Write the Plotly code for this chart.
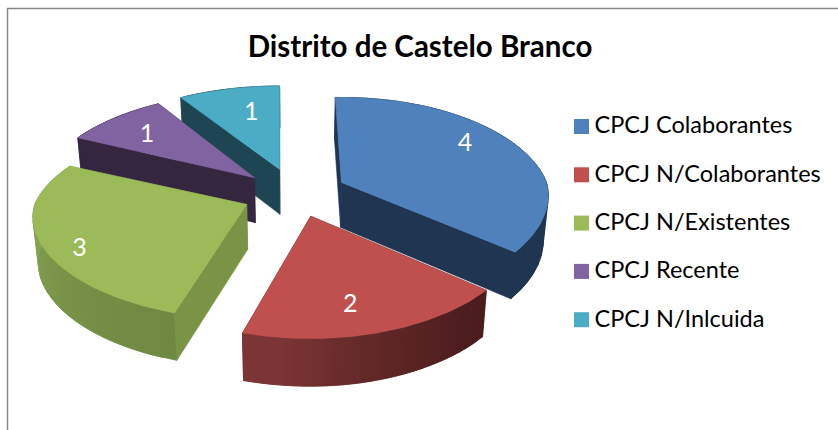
import math
import numpy as np
import plotly.graph_objects as go

# ---- data ----
categories = ["CPCJ Colaborantes", "CPCJ N/Colaborantes", "CPCJ N/Existentes", "CPCJ Recente", "CPCJ N/Inlcuida"]
values = [4, 2, 3, 1, 1]
title_text = "Distrito de Castelo Branco"

# ---- style ----
top_colors = ["#4f81bd", "#c0504d", "#9bbb59", "#8064a2", "#4bacc6"]
face_colors = ["#1f3552", "#4f1f1e", "#7a9446", "#35263f", "#1e4552"]
wall_start = ["#1f3552", "#4a1d1c", "#6e8a42", "#35263f", "#1e4552"]
wall_end = ["#1f3552", "#7b3534", "#8fab57", "#35263f", "#1e4552"]
label_frac = [(0.73, 0.92), (0.52, 0.78), (0.83, 0.98), (0.73, 0.75), (0.50, 0.70)]
draw_order = [4, 3, 0, 2, 1]

# ---- 3D projection parameters (pixel canvas) ----
W, H = 838, 430
CX, CY = 295, 194
RX_RIGHT, RX_LEFT, RY = 205, 212, 99.3
KX_BACK, KX_FRONT, KY = 0.19, 0.13, 0.168
explode_px = [52, 50, 54, 52, 49]
spin_deg = [0, 1.5, 3, 3, 2]
scale_x = [1.0, 1.03, 1.0, 1.0, 1.0]
scale_y = [1.0, 1.025, 0.96, 1.0, 0.98]
START = -2.0
DEPTH = 45.0


def rel(theta_deg, i):
    t = math.radians(theta_deg)
    s, c = math.sin(t), math.cos(t)
    rx = RX_RIGHT if s >= 0 else RX_LEFT
    k = KX_BACK if c >= 0 else KX_FRONT
    return scale_x[i] * rx * s / (1 + k * c), -scale_y[i] * RY * c / (1 + KY * c)


def apex(mid, i):
    t = math.radians(mid)
    c = math.cos(t)
    return CX + explode_px[i] * math.sin(t), CY - (26 if c > 0 else 23.4) * c


def lower(x, y, c):
    return CX + (x - CX) * 0.98, y + DEPTH * (1 - 0.06 * c)


def mix(a, b, t):
    ca = [int(a[i:i + 2], 16) for i in (1, 3, 5)]
    cb = [int(b[i:i + 2], 16) for i in (1, 3, 5)]
    return "rgb(%d,%d,%d)" % tuple(round(p + (q - p) * t) for p, q in zip(ca, cb))


def poly(fig, xs, ys, color, lw=0.6):
    fig.add_trace(go.Scatter(x=xs + xs[:1], y=ys + ys[:1], mode="lines", fill="toself",
                             fillcolor=color, line=dict(color=color, width=lw),
                             hoverinfo="skip", showlegend=False))


fig = go.Figure()
total = sum(values)
angles = [START]
for v in values:
    angles.append(angles[-1] + 360 * v / total)

label_x, label_y = [], []
slices = []
for i, v in enumerate(values):
    a0, a1 = angles[i] + spin_deg[i], angles[i + 1] + spin_deg[i]
    base_mid = (angles[i] + angles[i + 1]) / 2
    ax, ay = apex(base_mid, i)
    slices.append((a0, a1, ax, ay))
    dx, dy = rel(base_mid, i)
    label_x.append(ax + dx * label_frac[i][0])
    label_y.append(ay + dy * label_frac[i][1])

for i in draw_order:
    a0, a1, ax, ay = slices[i]
    # radial faces
    for a in (a0, a1):
        dx, dy = rel(a, i)
        px, py = ax + dx, ay + dy
        qx, qy = lower(px, py, math.cos(math.radians(a)))
        bx, by = lower(ax, ay, 0)
        poly(fig, [ax, px, qx, bx], [ay, py, qy, by], face_colors[i])
    # outer wall: overlapping bands give a smooth shading without seams
    n = 28
    th = np.linspace(a0, a1, n + 1)
    for k in range(n):
        band = np.linspace(th[k], th[min(k + 2, n)], 5)
        top = [(ax + rel(a, i)[0], ay + rel(a, i)[1]) for a in band]
        bottom = [lower(x, y, math.cos(math.radians(a))) for (x, y), a in zip(top, band)]
        t = min(1.0, (k + 0.5) / n * 1.15) ** 1.5
        poly(fig, [p[0] for p in top] + [p[0] for p in bottom[::-1]],
             [p[1] for p in top] + [p[1] for p in bottom[::-1]],
             mix(wall_start[i], wall_end[i], t), lw=0.6)
    # top surface
    th = np.linspace(a0, a1, 80)
    xs, ys = [ax], [ay]
    for a in th:
        dx, dy = rel(a, i)
        xs.append(ax + dx)
        ys.append(ay + dy)
    poly(fig, xs, ys, top_colors[i])

# data labels
fig.add_trace(go.Scatter(x=label_x, y=label_y, mode="text", text=[str(v) for v in values],
                         textposition="middle center",
                         textfont=dict(family="Lato", size=25, color="white"),
                         hoverinfo="skip", showlegend=False))

# legend
LEG_Y0, LEG_STEP = 126.5, 48.3
for i, name in enumerate(categories):
    y = LEG_Y0 + LEG_STEP * i
    fig.add_trace(go.Scatter(x=[581.5], y=[y], mode="markers",
                             marker=dict(symbol="square", size=15, color=top_colors[i]),
                             hoverinfo="skip", showlegend=False, cliponaxis=False))
    fig.add_trace(go.Scatter(x=[594.5], y=[y + 1], mode="text",
                             text=[name], textposition="middle right",
                             textfont=dict(family="Lato", size=23.5, color="#000000"),
                             hoverinfo="skip", showlegend=False, cliponaxis=False))

fig.update_layout(
    width=W, height=H, margin=dict(l=0, r=0, t=0, b=0),
    paper_bgcolor="white", plot_bgcolor="white", showlegend=False,
    title=dict(text="<b>%s</b>" % title_text, x=420 / W, xanchor="center",
               y=1 - 47 / H, yanchor="middle",
               font=dict(family="Lato", size=29.5, color="#000000")),
    xaxis=dict(range=[0, W], visible=False, fixedrange=True),
    yaxis=dict(range=[H, 0], visible=False, fixedrange=True),
    shapes=[
        dict(type="line", xref="x", yref="y", x0=7, x1=W, y0=8.5, y1=8.5, line=dict(color="#868686", width=1.5)),
        dict(type="line", xref="x", yref="y", x0=7.5, x1=7.5, y0=8, y1=H, line=dict(color="#868686", width=1.5)),
    ],
)

fig.write_html("out.html", config={"displayModeBar": False},
               post_script="document.body.style.margin='0';document.body.style.overflow='hidden';")
